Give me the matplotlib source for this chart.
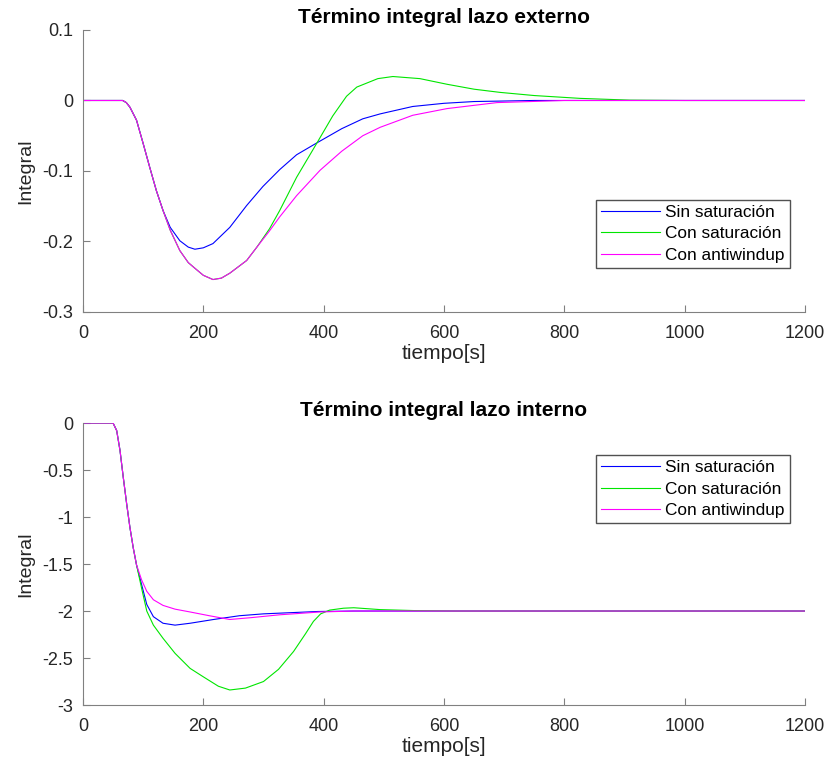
import numpy as np
import matplotlib.pyplot as plt

plt.rcParams['font.family'] = ['Liberation Sans', 'DejaVu Sans']
plt.rcParams['axes.unicode_minus'] = False

# lazo externo
t_ext_sin = [0, 66, 72, 78, 89, 100, 111, 122, 133, 145, 161, 175, 186, 200, 216, 244, 272,
             299, 327, 355, 389, 430, 465, 494, 548, 600, 650, 750, 1200]
y_ext_sin = [0, 0, -0.003, -0.0095, -0.028, -0.061, -0.095, -0.128, -0.156, -0.180, -0.199,
             -0.208, -0.211, -0.209, -0.203, -0.180, -0.149, -0.122, -0.098, -0.077, -0.06,
             -0.04, -0.026, -0.019, -0.0085, -0.004, -0.0015, 0, 0]
t_ext_anti = [0, 66, 72, 78, 89, 100, 111, 122, 133, 145, 161, 175, 186, 200, 216, 230, 244,
              272, 289, 310, 327, 355, 394, 430, 465, 494, 548, 605, 688, 800, 1200]
y_ext_anti = [0, 0, -0.003, -0.0095, -0.028, -0.061, -0.095, -0.128, -0.156, -0.184, -0.213,
              -0.230, -0.238, -0.248, -0.254, -0.252, -0.245, -0.227, -0.208, -0.185, -0.165,
              -0.135, -0.099, -0.072, -0.05, -0.038, -0.021, -0.0115, -0.003, 0, 0]
t_ext_con = [0, 66, 72, 78, 89, 100, 111, 122, 133, 145, 161, 175, 186, 200, 216, 230, 244,
             272, 289, 310, 327, 355, 389, 415, 438, 455, 490, 515, 560, 605, 650, 693, 750,
             826, 909, 1000, 1200]
y_ext_con = [0, 0, -0.003, -0.0095, -0.028, -0.061, -0.095, -0.128, -0.156, -0.184, -0.213,
             -0.230, -0.238, -0.248, -0.254, -0.252, -0.245, -0.227, -0.208, -0.182, -0.156,
             -0.109, -0.06, -0.022, 0.006, 0.019, 0.031, 0.034, 0.031, 0.023, 0.016, 0.0115,
             0.007, 0.003, 0.0005, 0, 0]

# lazo interno
t_int_sin = [0, 50, 56, 61.5, 67, 72.6, 78, 83.6, 89, 97.5, 106, 117, 133, 153, 178, 217,
             260, 300, 390, 450, 1200]
y_int_sin = [0, 0, -0.08, -0.29, -0.58, -0.86, -1.11, -1.33, -1.51, -1.72, -1.93, -2.06,
             -2.13, -2.15, -2.13, -2.09, -2.05, -2.03, -2.005, -2.0, -2.0]
t_int_con = [0, 50, 56, 61.5, 67, 72.6, 78, 83.6, 89, 97.5, 106, 117, 133, 153, 178, 200,
             225, 244, 270, 300, 325, 350, 370, 383, 395, 410, 433, 450, 494, 550, 620, 1200]
y_int_con = [0, 0, -0.08, -0.29, -0.58, -0.86, -1.11, -1.33, -1.51, -1.76, -2.0, -2.15,
             -2.29, -2.45, -2.61, -2.7, -2.8, -2.84, -2.82, -2.75, -2.62, -2.43, -2.24, -2.11,
             -2.03, -1.99, -1.97, -1.965, -1.985, -1.995, -2.0, -2.0]
t_int_anti = [0, 50, 56, 61.5, 67, 72.6, 78, 83.6, 89, 97.5, 106, 117, 133, 153, 178, 210,
              244, 280, 327, 394, 450, 1200]
y_int_anti = [0, 0, -0.08, -0.29, -0.58, -0.86, -1.11, -1.33, -1.51, -1.67, -1.79, -1.88,
              -1.94, -1.98, -2.01, -2.05, -2.09, -2.07, -2.04, -2.01, -2.0, -2.0]

labels = ['Sin saturación', 'Con saturación', 'Con antiwindup']
colors = ['#0000ff', '#00e600', '#ff00ff']
gris = '#262626'

fig = plt.figure(figsize=(8.29, 7.65), dpi=100)
ax1 = fig.add_axes([0.1001, 0.5922, 0.871, 0.3686])
ax2 = fig.add_axes([0.1001, 0.0784, 0.871, 0.3686])


def estilo(ax, yticks):
    for s in ['top', 'right']:
        ax.spines[s].set_visible(False)
    for s in ['left', 'bottom']:
        ax.spines[s].set_color('#808080')
        ax.spines[s].set_linewidth(0.8)
    ax.set_xlim(0, 1200)
    ax.set_xticks(range(0, 1201, 200))
    ax.set_yticks(yticks)
    ax.set_yticklabels(['%g' % v for v in yticks])
    ax.tick_params(direction='in', length=5, colors='#808080', labelcolor=gris,
                   labelsize=13)
    ax.tick_params(axis='x', pad=9.5)
    ax.tick_params(axis='y', pad=7)
    ax.set_xlabel('tiempo[s]', fontsize=15, color=gris, labelpad=1)
    ax.set_ylabel('Integral', fontsize=14, color=gris, labelpad=6)


def leyenda(ax, loc, anchor):
    ax.legend(loc=loc, bbox_to_anchor=anchor, fontsize=12.4, frameon=True,
              fancybox=False, edgecolor='#262626', handlelength=3.4, handletextpad=0.3,
              borderaxespad=0, labelspacing=0.38, borderpad=0.3)


ax1.plot(t_ext_sin, y_ext_sin, color=colors[0], lw=0.8, label=labels[0])
ax1.plot(t_ext_con, y_ext_con, color=colors[1], lw=0.8, label=labels[1])
ax1.plot(t_ext_anti, y_ext_anti, color=colors[2], lw=0.8, label=labels[2])
ax1.set_ylim(-0.3, 0.1)
estilo(ax1, [-0.3, -0.2, -0.1, 0, 0.1])
ax1.set_title('Término integral lazo externo', fontsize=15, fontweight='bold', pad=5)
leyenda(ax1, 'lower right', (0.979, 0.155))

ax2.plot(t_int_sin, y_int_sin, color=colors[0], lw=0.8, label=labels[0])
ax2.plot(t_int_con, y_int_con, color=colors[1], lw=0.8, label=labels[1])
ax2.plot(t_int_anti, y_int_anti, color=colors[2], lw=0.8, label=labels[2])
ax2.set_ylim(-3, 0)
estilo(ax2, [-3, -2.5, -2, -1.5, -1, -0.5, 0])
ax2.set_title('Término integral lazo interno', fontsize=15, fontweight='bold', pad=5)
leyenda(ax2, 'upper right', (0.979, 0.887))

fig.savefig('out.png', dpi=100)
